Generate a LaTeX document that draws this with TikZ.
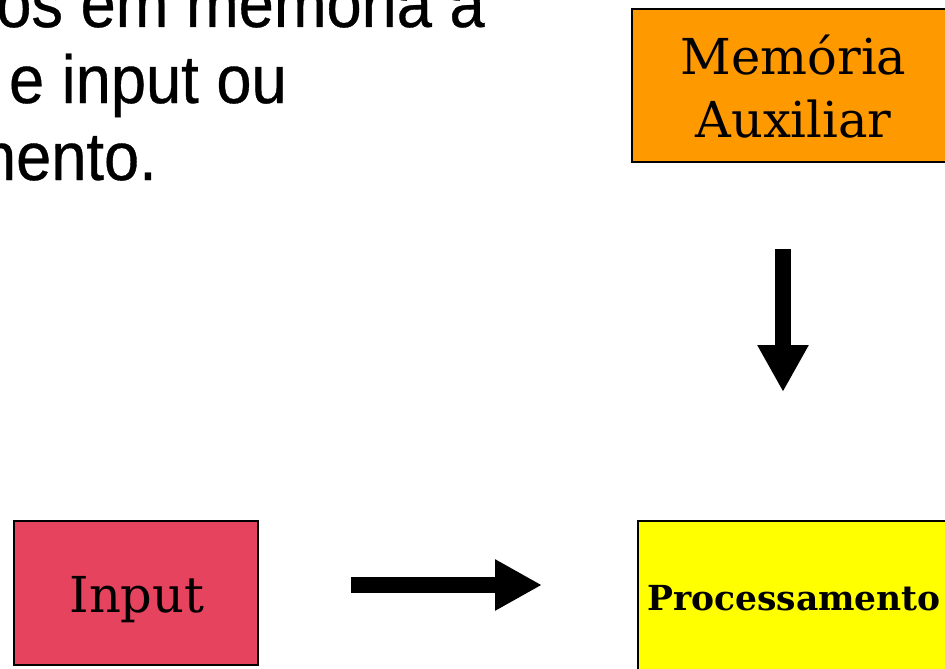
\documentclass[tikz,border=0pt]{standalone}
\usepackage{fontspec}
\setmainfont{DejaVu Serif}
\newfontfamily\slidefont[FakeStretch=0.93,FakeBold=0.5]{Liberation Sans}
\usetikzlibrary{arrows.meta,calc}
\definecolor{memorange}{HTML}{FF9900}
\definecolor{inpink}{HTML}{E6435F}
\definecolor{procyellow}{HTML}{FFFF00}

\begin{document}
\begin{tikzpicture}[x=1pt,y=-1pt,
  block/.style={draw=black, line width=2pt, inner sep=0pt, align=center},
  boxtext/.style={font=\fontsize{49.5}{63}\selectfont, inner sep=0pt, align=center},
  bodytext/.style={font=\slidefont\fontsize{68}{75}\selectfont, inner sep=0pt, anchor=base east},
  blockarrow/.style={line width=16pt, -{Triangle[length=47pt,width=48pt]}}]
\useasboundingbox (0,0) rectangle (945,669);
\fill[white] (0,0) rectangle (945,669);

% slide text (left part runs off the page)
\node[bodytext] (l1) at (485,27) {os em memória a};
\node[bodytext] (l2) at (287,103) {e input ou};
\node[bodytext] (l3) at (157,180) {nento.};

% blocks
\node[block, fill=memorange, minimum width=323pt, minimum height=153pt]
  (mem) at (793.5,85.5) {};
\node[boxtext] (memtext) at ($(mem.center)+(0,1)$) {Memória\\Auxiliar};
\node[block, fill=inpink, minimum width=244pt, minimum height=144pt]
  (in) at (136,593) {};
\node[boxtext, anchor=base] (intext) at (137,612) {Input};
\node[block, fill=procyellow, minimum width=312pt, minimum height=154pt]
  (proc) at (794,598) {};
\node[font=\bfseries\fontsize{34.5}{40}\selectfont, inner sep=0pt, anchor=base]
  (proctext) at (794,610) {Processamento};

% block arrows
\coordinate (downcol) at (783,0);
\coordinate (rightrow) at (0,585);
\draw[blockarrow, shorten <=86pt, shorten >=128pt] (mem.south -| downcol) -- (proc.north -| downcol);
\draw[blockarrow, shorten <=92pt, shorten >=95pt] (in.east |- rightrow) -- (proc.west |- rightrow);
\end{tikzpicture}
\end{document}
